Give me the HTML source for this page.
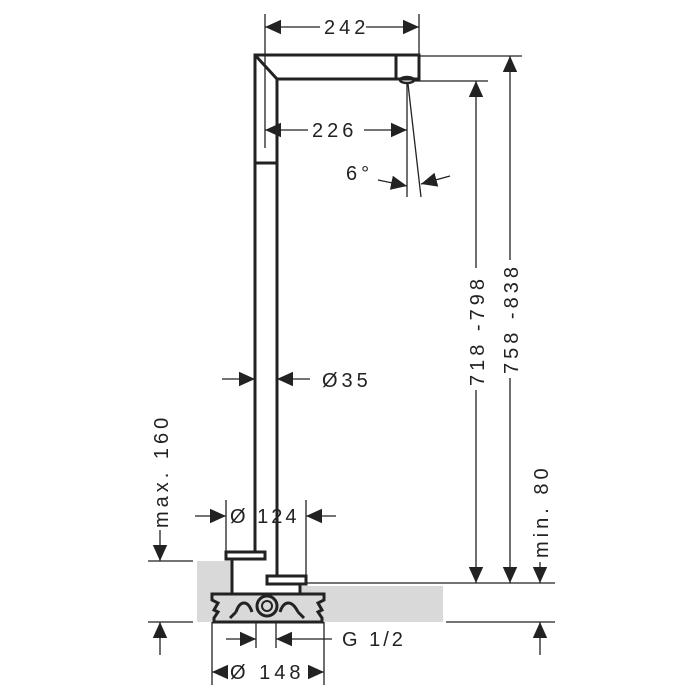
<!DOCTYPE html>
<html><head><meta charset="utf-8"><style>
html,body{margin:0;padding:0;background:#fff}
svg{display:block}
text{font-family:"Liberation Sans",sans-serif;font-size:20px;fill:#222;letter-spacing:4px}
</style></head><body>
<svg width="700" height="700" viewBox="0 0 700 700" xmlns="http://www.w3.org/2000/svg">
<defs>
<marker id="a" viewBox="0 0 10 10" refX="10" refY="5" markerWidth="16" markerHeight="16" markerUnits="userSpaceOnUse" orient="auto-start-reverse"><path d="M0,0.5 L10,5 L0,9.5 z" fill="#222"/></marker>
</defs>
<path d="M197,561 L232,561 L232,593 L197,593 Z" fill="#d9d9d9"/>
<path d="M197,593 L443,593 L443,622 L197,622 Z" fill="#d9d9d9"/>
<path d="M300,586 L443,586 L443,593 L300,593 Z" fill="#d9d9d9"/>
<g stroke="#222" fill="none">
<g stroke-width="1.3">
<line x1="265" y1="14" x2="265" y2="148"/>
<line x1="419" y1="14" x2="419" y2="60"/>
<line x1="419" y1="56" x2="522" y2="56"/>
<line x1="412" y1="81" x2="488" y2="81"/>
<line x1="148" y1="561" x2="193" y2="561"/>
<line x1="148" y1="622" x2="193" y2="622"/>
<line x1="446" y1="622" x2="555" y2="622"/>
<line x1="306" y1="583" x2="555" y2="583"/>
<line x1="226" y1="500" x2="226" y2="552"/>
<line x1="306" y1="500" x2="306" y2="576"/>
<line x1="212" y1="622" x2="212" y2="685"/>
<line x1="324" y1="622" x2="324" y2="685"/>
<line x1="256" y1="622" x2="256" y2="648"/>
<line x1="276" y1="622" x2="276" y2="648"/>
<line x1="407" y1="84" x2="407" y2="197"/>
<line x1="408" y1="84" x2="421" y2="197"/>
<line x1="265" y1="27" x2="320" y2="27" marker-start="url(#a)"/>
<line x1="366" y1="27" x2="419" y2="27" marker-end="url(#a)"/>
<line x1="265" y1="130" x2="308" y2="130" marker-start="url(#a)"/>
<line x1="364" y1="130" x2="407" y2="130" marker-end="url(#a)"/>
<line x1="378" y1="180" x2="407" y2="186" marker-end="url(#a)"/>
<line x1="450" y1="176" x2="421" y2="184" marker-end="url(#a)"/>
<line x1="476" y1="81" x2="476" y2="268" marker-start="url(#a)"/>
<line x1="476" y1="390" x2="476" y2="583" marker-end="url(#a)"/>
<line x1="510" y1="56" x2="510" y2="260" marker-start="url(#a)"/>
<line x1="510" y1="378" x2="510" y2="583" marker-end="url(#a)"/>
<line x1="540" y1="562" x2="540" y2="583" marker-end="url(#a)"/>
<line x1="540" y1="655" x2="540" y2="622" marker-end="url(#a)"/>
<line x1="160" y1="530" x2="160" y2="561" marker-end="url(#a)"/>
<line x1="160" y1="655" x2="160" y2="622" marker-end="url(#a)"/>
<line x1="222" y1="379" x2="255" y2="379" marker-end="url(#a)"/>
<line x1="310" y1="379" x2="277" y2="379" marker-end="url(#a)"/>
<line x1="195" y1="516" x2="226" y2="516" marker-end="url(#a)"/>
<line x1="336" y1="516" x2="306" y2="516" marker-end="url(#a)"/>
<line x1="226" y1="639" x2="256" y2="639" marker-end="url(#a)"/>
<line x1="332" y1="639" x2="276" y2="639" marker-end="url(#a)"/>
<line x1="228" y1="672" x2="212" y2="672" marker-end="url(#a)"/>
<line x1="308" y1="672" x2="324" y2="672" marker-end="url(#a)"/>
</g>
<g stroke-width="3">
<path d="M255,552 L255,55 L419,55 L419,79 L277,79 L277,575"/>
<line x1="255" y1="55" x2="277" y2="79"/>
<line x1="396" y1="55" x2="396" y2="79"/>
<line x1="255" y1="163" x2="277" y2="163"/>
<rect x="226" y="552" width="39" height="7"/>
<rect x="267" y="576" width="39" height="8"/>
<line x1="232" y1="559" x2="232" y2="594"/>
<line x1="300" y1="584" x2="300" y2="594"/>
<path d="M212,594 L324,594 L324,600 L318,603 L322,610 L318,612 L322,618 L322,622 L214,622 L214,618 L218,612 L214,610 L218,603 L212,600 Z"/>
<path d="M236,612 C240,600 248,600 252,612 M280,612 C284,600 292,600 298,612 M236,612 L230,618 M298,612 L304,618"/>
<circle cx="267" cy="606" r="10"/>
</g>
<circle cx="267" cy="606" r="5" stroke-width="2"/>
<ellipse cx="407" cy="80" rx="7" ry="3" stroke-width="2.5"/>
</g>
<text x="324" y="34">242</text>
<text x="312" y="137">226</text>
<text x="346" y="180">6°</text>
<text x="322" y="387">Ø35</text>
<text x="230" y="523" style="letter-spacing:3px">Ø 124</text>
<text x="342" y="646" style="letter-spacing:3px">G 1/2</text>
<text x="230" y="679">Ø 148</text>
<text transform="translate(484,386) rotate(-90)">718 -798</text>
<text transform="translate(518,374) rotate(-90)">758 -838</text>
<text transform="translate(548,558) rotate(-90)">min. 80</text>
<text transform="translate(168,528) rotate(-90)">max. 160</text>
</svg>
</body></html>
